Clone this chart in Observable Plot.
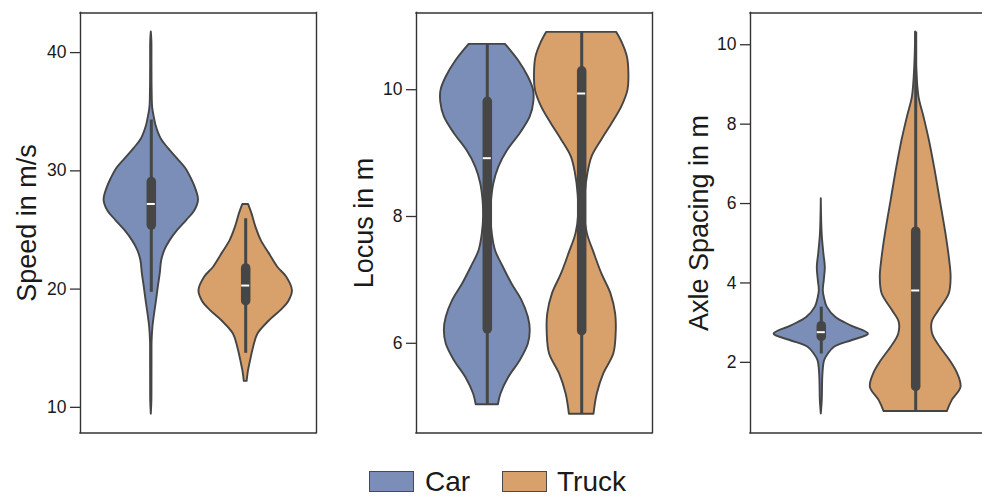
<!DOCTYPE html>
<html>
<head>
<meta charset="utf-8">
<script src="https://cdn.jsdelivr.net/npm/d3@7"></script>
<script src="https://cdn.jsdelivr.net/npm/@observablehq/plot@0.6"></script>
<style>
  html, body { margin: 0; padding: 0; background: #fff; overflow: hidden; width: 982px; }
  #chart { position: relative; width: 982px; height: 498px; overflow: hidden;
           font-family: "Liberation Sans", Arial, Helvetica, sans-serif; }
  .panel { position: absolute; top: 0; height: 438px; }
  .panel svg { max-width: none !important; }
  .swatch { position: absolute; width: 43px; height: 19px; border: 1.5px solid #4a4a4a; }
  .legtext { position: absolute; font-size: 28px; line-height: 28px; color: #1a1a1a; }
</style>
</head>
<body>
<div id="chart"></div>
<script>
// Vehicle classes and their fills
const categories = ["Car", "Truck"];
const fills = ["#7a8eb7", "#d8a06a"];

// Axis labels and tick values of the three panels
const yLabels = ["Speed in m/s", "Locus in m", "Axle Spacing in m"];
const speedTicks = [10, 20, 30, 40];
const locusTicks = [6, 8, 10];
const axleTicks = [2, 4, 6, 8, 10];
const speedDomain = [7.83, 43.35];
const locusDomain = [4.585, 11.21];
const axleDomain = [0.22, 10.8];

// Density profiles: [value, relative density]
const speedCar = [[9.43,0],[10.5,0.012],[12,0.014],[14,0.015],[15.6,0.017],[16.8,0.035],[17.9,0.07],[19.0,0.11],[20.2,0.15],[21.3,0.19],[22.4,0.22],[23.3,0.29],[24.1,0.40],[24.96,0.56],[25.8,0.75],[26.6,0.92],[27.5,1.0],[28.5,0.94],[29.33,0.85],[30.2,0.73],[31.0,0.56],[31.9,0.36],[32.7,0.21],[33.84,0.10],[34.4,0.07],[35.3,0.03],[36.7,0.018],[39,0.014],[41.0,0.012],[41.74,0]];
const speedTruck = [[12.2,0.03],[13.1,0.06],[13.97,0.105],[15.1,0.17],[16.2,0.26],[17.3,0.50],[18.2,0.75],[19.0,0.92],[19.87,0.99],[21.0,0.87],[21.85,0.68],[23.0,0.50],[24.1,0.33],[25.2,0.22],[26.4,0.13],[27.16,0.06]];
const locusCar = [[5.03,0.235],[5.20,0.29],[5.46,0.455],[5.73,0.70],[5.99,0.87],[6.20,0.91],[6.41,0.87],[6.68,0.73],[6.94,0.52],[7.20,0.34],[7.46,0.175],[7.73,0.105],[8.0,0.077],[8.25,0.09],[8.52,0.14],[8.78,0.245],[9.04,0.43],[9.31,0.70],[9.57,0.91],[9.80,0.985],[9.99,0.98],[10.2,0.87],[10.46,0.66],[10.715,0.385]];
const locusTruck = [[4.88,0.26],[5.20,0.33],[5.52,0.47],[5.83,0.68],[6.15,0.73],[6.46,0.72],[6.78,0.62],[7.09,0.43],[7.41,0.27],[7.73,0.12],[8.04,0.063],[8.36,0.077],[8.67,0.13],[8.94,0.22],[9.20,0.42],[9.46,0.64],[9.73,0.85],[9.99,0.98],[10.25,1.0],[10.51,0.97],[10.73,0.865],[10.905,0.74]];
const axleCar = [[0.70,0],[1.03,0.02],[1.71,0.035],[2.04,0.07],[2.21,0.15],[2.38,0.28],[2.55,0.66],[2.71,1.0],[2.92,0.63],[3.13,0.31],[3.39,0.125],[3.64,0.063],[3.81,0.042],[4.06,0.063],[4.39,0.085],[4.73,0.055],[5.24,0.018],[6.12,0]];
const axleTruck = [[0.76,0.67],[1.03,0.77],[1.37,0.96],[1.71,0.89],[2.04,0.73],[2.38,0.52],[2.71,0.36],[3.01,0.35],[3.30,0.49],[3.72,0.71],[4.14,0.75],[4.56,0.72],[5.24,0.64],[6.08,0.52],[6.91,0.40],[7.59,0.29],[8.18,0.175],[8.68,0.07],[9.44,0.02],[10.32,0]];

// Box summaries: [whisker low, Q1, median, Q3, whisker high]
const speedCarStats = [19.73, 25.37, 27.2, 29.05, 34.3];
const speedTruckStats = [14.57, 18.98, 20.3, 21.75, 25.95];
const locusCarStats = [5.03, 6.22, 8.92, 9.81, 10.715];
const locusTruckStats = [4.88, 6.19, 9.94, 10.29, 10.905];
const axleCarStats = [2.21, 2.64, 2.76, 2.91, 3.39];
const axleTruckStats = [0.76, 1.38, 3.81, 5.29, 10.32];

// The third panel runs off the page edge: its plot area is cut to 232 of 236 px,
// so its x domain is cut by the same share and the scale stays identical.
const panels = [
  {label: yLabels[0], ticks: speedTicks, domain: speedDomain, profiles: [speedCar, speedTruck], stats: [speedCarStats, speedTruckStats], left: 0, labelDx: -45, plotWidth: 236, marginRight: 4, rightEdge: true},
  {label: yLabels[1], ticks: locusTicks, domain: locusDomain, profiles: [locusCar, locusTruck], stats: [locusCarStats, locusTruckStats], left: 336, labelDx: -44, plotWidth: 236, marginRight: 4, rightEdge: true},
  {label: yLabels[2], ticks: axleTicks, domain: axleDomain, profiles: [axleCar, axleTruck], stats: [axleCarStats, axleTruckStats], left: 670, labelDx: -43, plotWidth: 232, marginRight: 0, rightEdge: false}
];

const fullWidth = 236;
const offsets = [-0.2, 0.2];   // dodged positions of the two classes
const halfWidth = 0.2;          // widest violin half-width in x units
const edge = "#454545";
const boxColor = "#464646";
const spine = {stroke: "#333", strokeWidth: 1.4, strokeLinecap: "square"};

const chart = document.getElementById("chart");

for (const p of panels) {
  const xDomain = [-0.5, -0.5 + p.plotWidth / fullWidth];
  const marks = [
    Plot.ruleY(p.domain, {...spine}),
    Plot.ruleX(p.rightEdge ? xDomain : [xDomain[0]], {...spine})
  ];
  categories.forEach((cat, i) => {
    const c = offsets[i];
    const rows = p.profiles[i].map(([v, w]) => ({v, w}));
    const [lo, q1, med, q3, hi] = p.stats[i];
    marks.push(
      Plot.areaX(rows, {
        y: "v",
        x1: d => c - halfWidth * d.w,
        x2: d => c + halfWidth * d.w,
        fill: fills[i],
        stroke: edge,
        strokeWidth: 1.9,
        strokeLinejoin: "round",
        curve: "catmull-rom"
      }),
      Plot.ruleX([c], {y1: lo, y2: hi, stroke: boxColor, strokeWidth: 3}),
      Plot.ruleX([c], {y1: q1, y2: q3, stroke: boxColor, strokeWidth: 9.5, strokeLinecap: "round"}),
      Plot.ruleY([med], {x1: c - 0.017, x2: c + 0.017, stroke: "white", strokeWidth: 2})
    );
  });
  marks.push(
    Plot.axisY(p.ticks, {tickSize: 10, tickPadding: 4, fontSize: 17.5, tickFormat: d3.format("d"), label: null, stroke: "#333", strokeWidth: 1.3}),
    Plot.text([p.label], {frameAnchor: "left", text: d => d, rotate: -90, textAnchor: "middle", lineAnchor: "bottom", dx: p.labelDx, fontSize: 27, fill: "#1a1a1a"})
  );
  const width = 80 + p.plotWidth + p.marginRight;
  const svg = Plot.plot({
    width,
    height: 438,
    marginLeft: 80,
    marginRight: p.marginRight,
    marginTop: 12.5,
    marginBottom: 5.5,
    x: {domain: xDomain, axis: null},
    y: {domain: p.domain, axis: null},
    style: {fontFamily: "Liberation Sans, Arial, sans-serif", color: "#1a1a1a", background: "transparent", maxWidth: "none"},
    marks
  });
  svg.style.maxWidth = "none";
  const holder = document.createElement("div");
  holder.className = "panel";
  holder.style.left = p.left + "px";
  holder.style.width = width + "px";
  holder.appendChild(svg);
  chart.appendChild(holder);
}

// Legend below the panels
const legendItems = [
  {swatchLeft: 369, textLeft: 425},
  {swatchLeft: 502, textLeft: 557}
];
categories.forEach((cat, i) => {
  const sw = document.createElement("div");
  sw.className = "swatch";
  sw.style.left = legendItems[i].swatchLeft + "px";
  sw.style.top = "471px";
  sw.style.background = fills[i];
  chart.appendChild(sw);
  const t = document.createElement("div");
  t.className = "legtext";
  t.style.left = legendItems[i].textLeft + "px";
  t.style.top = "468px";
  t.textContent = cat;
  chart.appendChild(t);
});
</script>
</body>
</html>
